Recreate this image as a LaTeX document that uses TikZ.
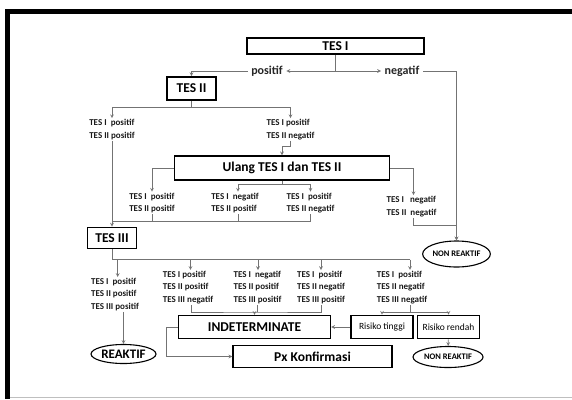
\documentclass[tikz,border=0pt]{standalone}
\usepackage{fontspec}
\setmainfont{Carlito}
\usetikzlibrary{shapes.geometric,arrows}

\begin{document}
\begin{tikzpicture}[
    x=1pt, y=-1pt,
    % Stili dei nodi
    testbox/.style={
        rectangle, draw, line width=1.4pt, inner sep=0pt,
        font=\fontsize{13.5}{15}\selectfont\bfseries
    },
    riskbox/.style={
        rectangle, draw, line width=1.6pt, inner sep=0pt,
        minimum width=62pt, minimum height=23pt,
        font=\fontsize{9.5}{11}\selectfont
    },
    outcome/.style={
        ellipse, draw, line width=1.1pt, inner sep=0pt,
        font=\fontsize{8.5}{10}\selectfont\bfseries
    },
    result/.style={
        align=left, inner sep=1pt, text=black!90,
        font=\fontsize{9}{12.4}\selectfont\bfseries
    },
    branch/.style={
        inner sep=3.5pt, text=black!85,
        font=\fontsize{12}{14}\selectfont\bfseries
    },
    flow/.style={draw=black!55, line width=0.7pt},
    flowarrow/.style={flow, ->, >=stealth}
]
\useasboundingbox (0,0) rectangle (572,399);

% Cornice
\fill (5,9) rectangle (572,14);
\fill (5,9) rectangle (10,399);
\draw[black!25, line width=1pt] (10,397.5) -- (572,397.5);

% TES I
\node[testbox, minimum width=177pt, minimum height=16pt] (tes1) at (335.5,46) {TES I};
\node[branch] (pos) at (267,71) {positif};
\node[branch] (neg) at (402,71) {negatif};

% TES II
\node[testbox, line width=1.8pt, minimum width=49pt, minimum height=23pt] (tes2) at (191.5,88.5) {TES II};
\node[result] (r2a) at (112,129.5) {TES I\ \ positif\\TES II positif};
\node[result] (r2b) at (290.5,129.5) {TES I positif\\TES II negatif};

% Ulang TES I dan TES II
\node[testbox, minimum width=215pt, minimum height=24pt] (ulang) at (282,168) {Ulang TES I dan TES II};
\node[result] (r3a) at (152,203) {TES I\ \ positif\\TES II\ positif};
\node[result] (r3b) at (235,203) {TES I\ \ negatif\\TES II positif};
\node[result] (r3c) at (310.5,203) {TES I\ \ positif\\TES II negatif};
\node[result] (r3d) at (411.5,206.5) {TES I\ \ \ negatif\\TES II\ \ negatif};
\node[outcome, minimum width=67pt, minimum height=26pt] (nr1) at (456.5,254) {NON REAKTIF};

% TES III
\node[testbox, line width=1.8pt, minimum width=49pt, minimum height=21pt] (tes3) at (112,238) {TES III};
\node[result] (r4a) at (115,294.5) {TES I\ \ positif\\TES II positif\\TES III positif};
\node[result] (r4b) at (188,287.5) {TES I positif\\TES II positif\\TES III negatif};
\node[result] (r4c) at (257.5,287.5) {TES I\ \ negatif\\TES II positif\\TES III positif};
\node[result] (r4d) at (321,287.5) {TES I\ \ positif\\TES II negatif\\TES III positif};
\node[result] (r4e) at (402,287.5) {TES I\ \ positif\\TES II negatif\\TES III negatif};

% Esiti finali
\node[outcome, font=\fontsize{13}{15}\selectfont\bfseries, minimum width=65pt, minimum height=19pt] (reaktif) at (123.5,354) {REAKTIF};
\node[testbox, minimum width=152pt, minimum height=23pt] (indet) at (254.5,327) {INDETERMINATE};
\node[riskbox] (tinggi) at (382,327) {Risiko tinggi};
\node[riskbox] (rendah) at (448.5,327) {Risiko rendah};
\node[outcome, minimum width=70pt, minimum height=21pt] (nr2) at (448,357) {NON REAKTIF};
\node[testbox, minimum width=159pt, minimum height=22pt] (konfirm) at (312.5,356.5) {Px Konfirmasi};

% Connessioni TES I
\coordinate (s1) at (335.5,71);
\draw[flow] (tes1) -- (s1);
\draw[flowarrow] (s1) -- (pos);
\draw[flowarrow] (s1) -- (neg);
\draw[flowarrow] (pos.west) -| (tes2.north);
\draw[flowarrow] (neg.east) -| (nr1.north);

% Connessioni TES II
\coordinate (s2) at (191.5,107);
\draw[flow] (tes2) -- (s2);
\draw[flowarrow] (s2) -| (r2a.north);
\draw[flowarrow] (s2) -| (r2b.north);
\draw[flowarrow] (r2b.south) -- ++(0,6) -| (ulang.north);

% Connessioni Ulang
\coordinate (s3) at (282,184);
\draw[flowarrow] (ulang.west) -| (r3a.north);
\draw[flow] (ulang) -- (s3);
\draw[flowarrow] (s3) -| ([xshift=3pt]r3b.north);
\draw[flowarrow] (s3) -| (r3c.north);
\draw[flowarrow] (ulang.east) -| ([xshift=2pt]r3d.north);
\draw[flowarrow] ([xshift=2pt]r3d.south) -- ++(0,8) -| (nr1.north);

% Verso TES III
\coordinate (j3) at (112,221.5);
\draw[flowarrow] (r2a.south) -- (tes3.north);
\draw[flow] (r3c.south) |- (j3);
\draw[flow] ([xshift=3pt]r3b.south) -- ([xshift=3pt]r3b.south |- j3);
\draw[flow] (r3a.south) -- (r3a.south |- j3);

% Connessioni TES III
\coordinate (s4) at (112,259.5);
\draw[flow] (tes3) -- (s4) -- ([xshift=8pt]r4e.north |- s4);
\foreach \n/\dx in {r4a/2.7, r4b/2.5, r4c/0.5, r4d/0, r4e/8}
    \draw[flowarrow] ([xshift=\dx pt]\n.north |- s4) -- ([xshift=\dx pt]\n.north);
\draw[flowarrow] (reaktif.north |- r4a.south) -- (reaktif.north);

% Verso INDETERMINATE
\coordinate (j4) at (254.5,312);
\draw[flow] ([xshift=3pt]r4b.south) |- (j4) -| (r4d.south);
\draw[flow] (r4c.south) -- (r4c.south |- j4);
\draw[flowarrow] (j4) -- (indet.north);

% Risiko
\coordinate (s5) at (410,312);
\draw[flow] ([xshift=8pt]r4e.south) -- (s5);
\draw[flowarrow] (s5) -| (tinggi.north);
\draw[flowarrow] (s5) -| (rendah.north);
\draw[flowarrow] (tinggi) -- (indet);
\draw[flowarrow] (rendah) -- (nr2);
\draw[flowarrow] (indet.west) -- ++(-11,0) |- (konfirm.west);

\end{tikzpicture}
\end{document}
